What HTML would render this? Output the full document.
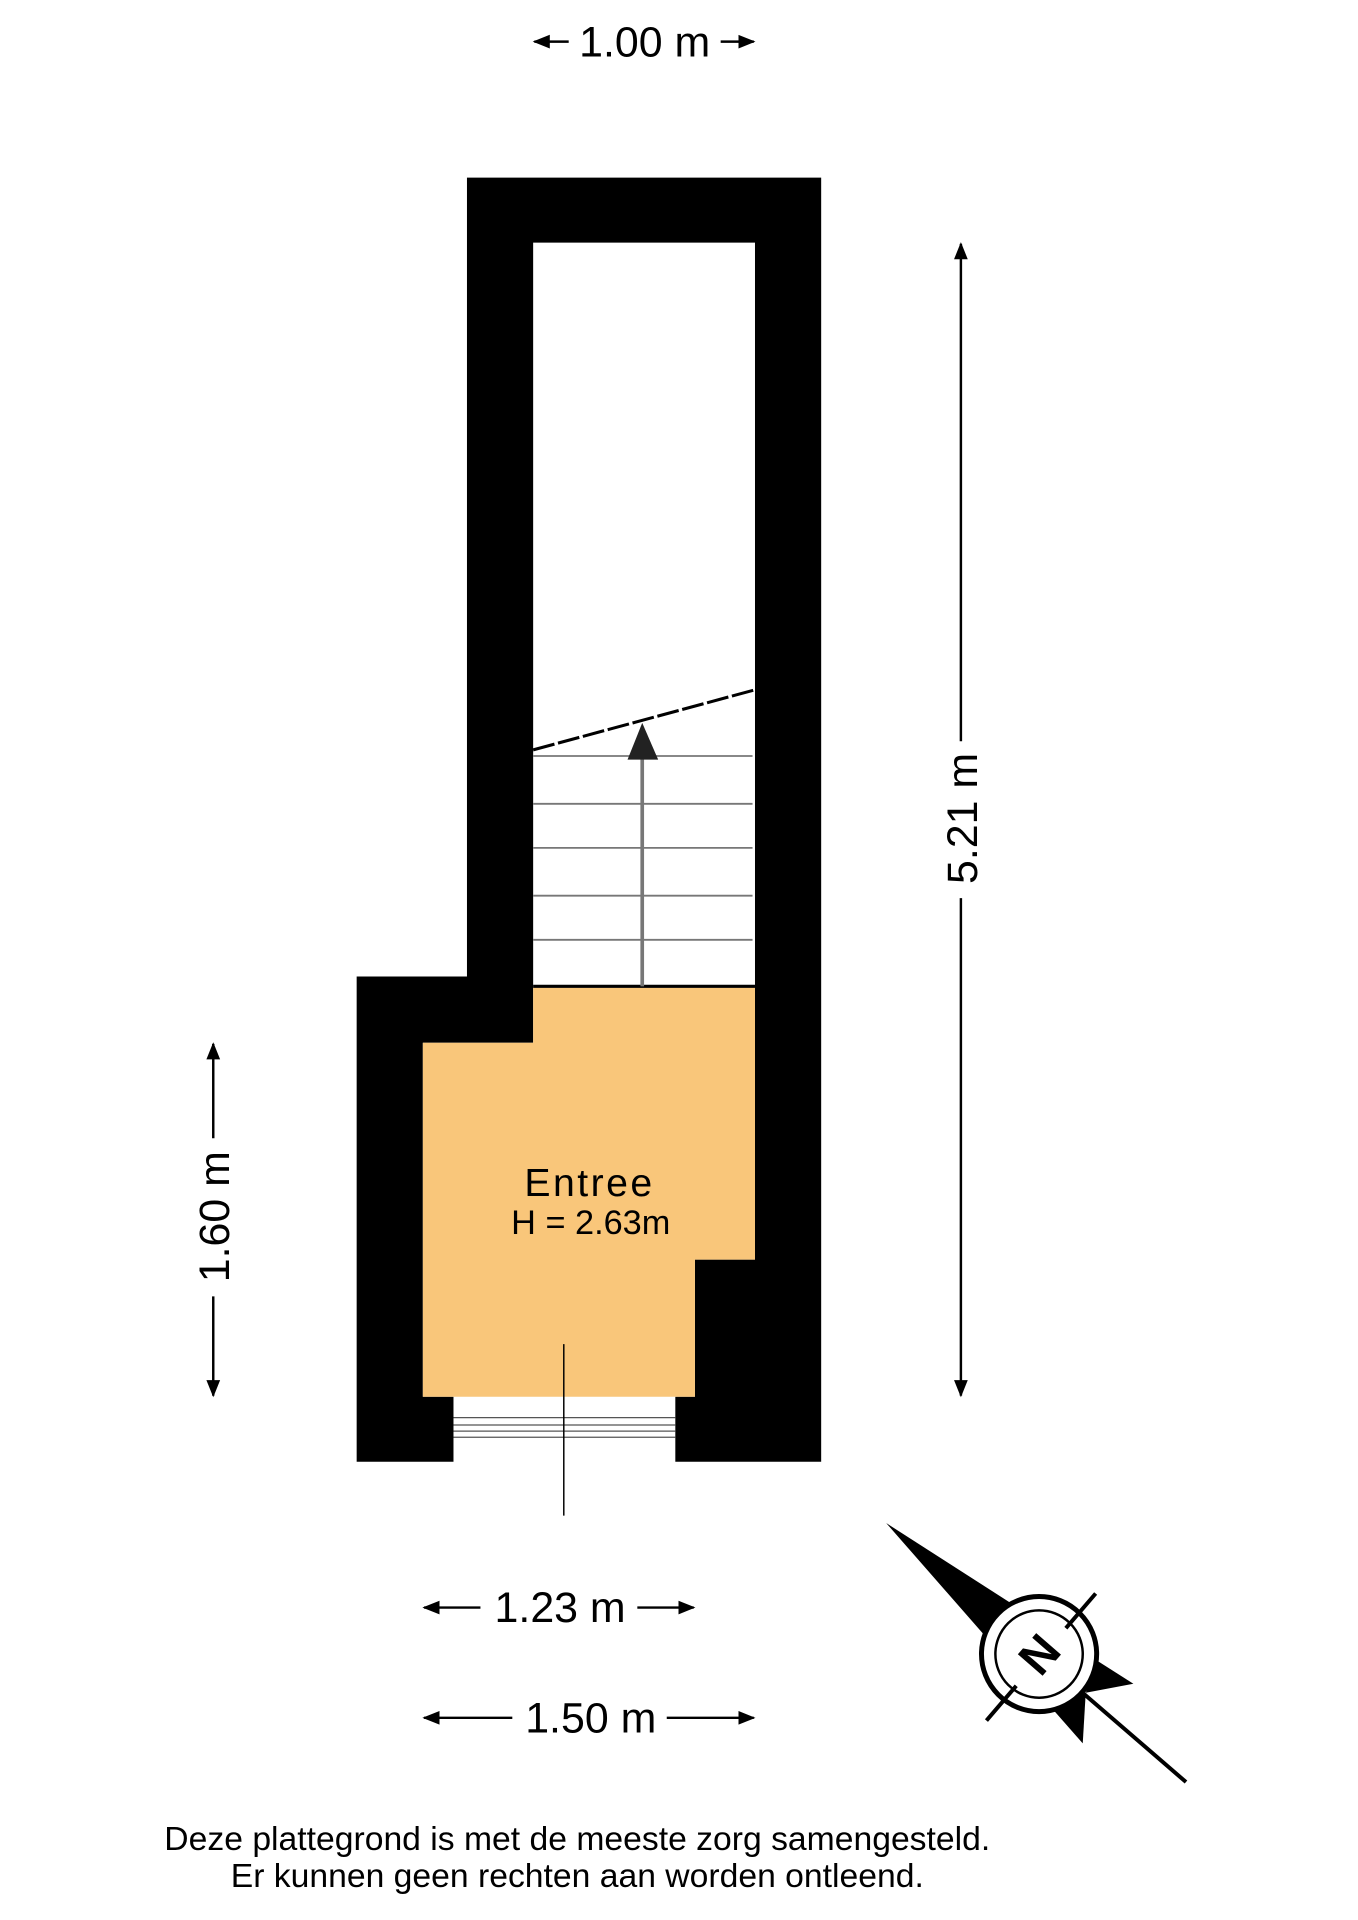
<!DOCTYPE html>
<html><head><meta charset="utf-8"><style>
html,body{margin:0;padding:0;background:#fff}
svg{display:block}
text{font-family:"Liberation Sans",sans-serif;fill:#000}
</style></head><body>
<svg width="1358" height="1920" viewBox="0 0 1108 1567" preserveAspectRatio="none" xmlns="http://www.w3.org/2000/svg">
<defs>
<marker id="b" viewBox="0 0 10 10" refX="9" refY="5" markerWidth="7" markerHeight="7" orient="auto-start-reverse"><path d="M0,1 L10,5 L0,9 Z" fill="#000"/></marker></defs>
<!-- walls -->
<path d="M381,145 H670 V1193 H551 V1140 H567 V1028 H616 V198 H435 V851 H345 V1140 H370 V1193 H291 V797 H381 Z" fill="#000"/>
<polygon points="435,806 616,806 616,1028 567,1028 567,1140 345,1140 345,851 435,851" fill="#f9c67a"/>
<!-- stairs -->
<g stroke="#777" stroke-width="1.5">
<line x1="435" y1="617" x2="614" y2="617"/><line x1="435" y1="656" x2="614" y2="656"/>
<line x1="435" y1="692" x2="614" y2="692"/><line x1="435" y1="731" x2="614" y2="731"/>
<line x1="435" y1="767" x2="614" y2="767"/>
</g>
<line x1="435" y1="805" x2="616" y2="805" stroke="#000" stroke-width="2.5"/>
<line x1="435" y1="612" x2="616" y2="563" stroke="#000" stroke-width="2.5" stroke-dasharray="18,3"/>
<line x1="524" y1="805" x2="524" y2="615" stroke="#777" stroke-width="3"/>
<polygon points="524,590 512,620 537,620" fill="#222"/>
<!-- door -->
<g stroke="#555" stroke-width="1"><line x1="370" y1="1157" x2="551" y2="1157"/><line x1="370" y1="1163" x2="551" y2="1163"/><line x1="370" y1="1168" x2="551" y2="1168"/><line x1="370" y1="1173" x2="551" y2="1173"/></g>
<line x1="460" y1="1097" x2="460" y2="1237" stroke="#000" stroke-width="1.2"/>
<text x="481" y="976" font-size="32" text-anchor="middle" letter-spacing="2">Entree</text>
<text x="482" y="1007" font-size="28" text-anchor="middle">H = 2.63m</text>
<!-- dims -->
<line x1="436" y1="34" x2="464" y2="34" stroke="#000" stroke-width="2" marker-start="url(#b)"/>
<line x1="588" y1="34" x2="615" y2="34" stroke="#000" stroke-width="2" marker-end="url(#b)"/>
<text x="526" y="46" font-size="35" text-anchor="middle">1.00 m</text>
<line x1="784" y1="199" x2="784" y2="605" stroke="#000" stroke-width="2" marker-start="url(#b)"/>
<line x1="784" y1="733" x2="784" y2="1139" stroke="#000" stroke-width="2" marker-end="url(#b)"/>
<text transform="translate(797,668) rotate(-90)" font-size="35" text-anchor="middle">5.21 m</text>
<line x1="174" y1="852" x2="174" y2="929" stroke="#000" stroke-width="2" marker-start="url(#b)"/>
<line x1="174" y1="1058" x2="174" y2="1139" stroke="#000" stroke-width="2" marker-end="url(#b)"/>
<text transform="translate(187,993) rotate(-90)" font-size="35" text-anchor="middle">1.60 m</text>
<line x1="346" y1="1312" x2="392" y2="1312" stroke="#000" stroke-width="2" marker-start="url(#b)"/>
<line x1="520" y1="1312" x2="566" y2="1312" stroke="#000" stroke-width="2" marker-end="url(#b)"/>
<text x="457" y="1324" font-size="35" text-anchor="middle">1.23 m</text>
<line x1="346" y1="1402" x2="418" y2="1402" stroke="#000" stroke-width="2" marker-start="url(#b)"/>
<line x1="544" y1="1402" x2="615" y2="1402" stroke="#000" stroke-width="2" marker-end="url(#b)"/>
<text x="482" y="1414" font-size="35" text-anchor="middle">1.50 m</text>
<text x="471" y="1510" font-size="27.5" text-anchor="middle">Deze plattegrond is met de meeste zorg samengesteld.</text>
<text x="471" y="1540" font-size="27.5" text-anchor="middle">Er kunnen geen rechten aan worden ontleend.</text>
<!-- compass -->
<g transform="translate(7,11) scale(0.81)">
<polygon points="884,1521 1010,1602 982,1633" fill="#000"/>
<polygon points="1133,1683 1097,1660 1085,1692" fill="#000"/>
<polygon points="1082,1743 1053,1710 1085,1692" fill="#000"/>
<line x1="1083" y1="1693" x2="1186" y2="1782" stroke="#000" stroke-width="4"/>
<circle cx="1038" cy="1653" r="58" fill="#fff" stroke="#000" stroke-width="5"/>
<circle cx="1038" cy="1653" r="44" fill="none" stroke="#000" stroke-width="2.5"/>
<line x1="1095" y1="1592" x2="1065" y2="1627" stroke="#000" stroke-width="4"/>
<line x1="1015" y1="1685" x2="985" y2="1720" stroke="#000" stroke-width="4"/>
<text transform="translate(1038,1653) rotate(-49)" x="0" y="17" font-size="48" font-weight="bold" text-anchor="middle">N</text>
</g>
</svg>
</body></html>
